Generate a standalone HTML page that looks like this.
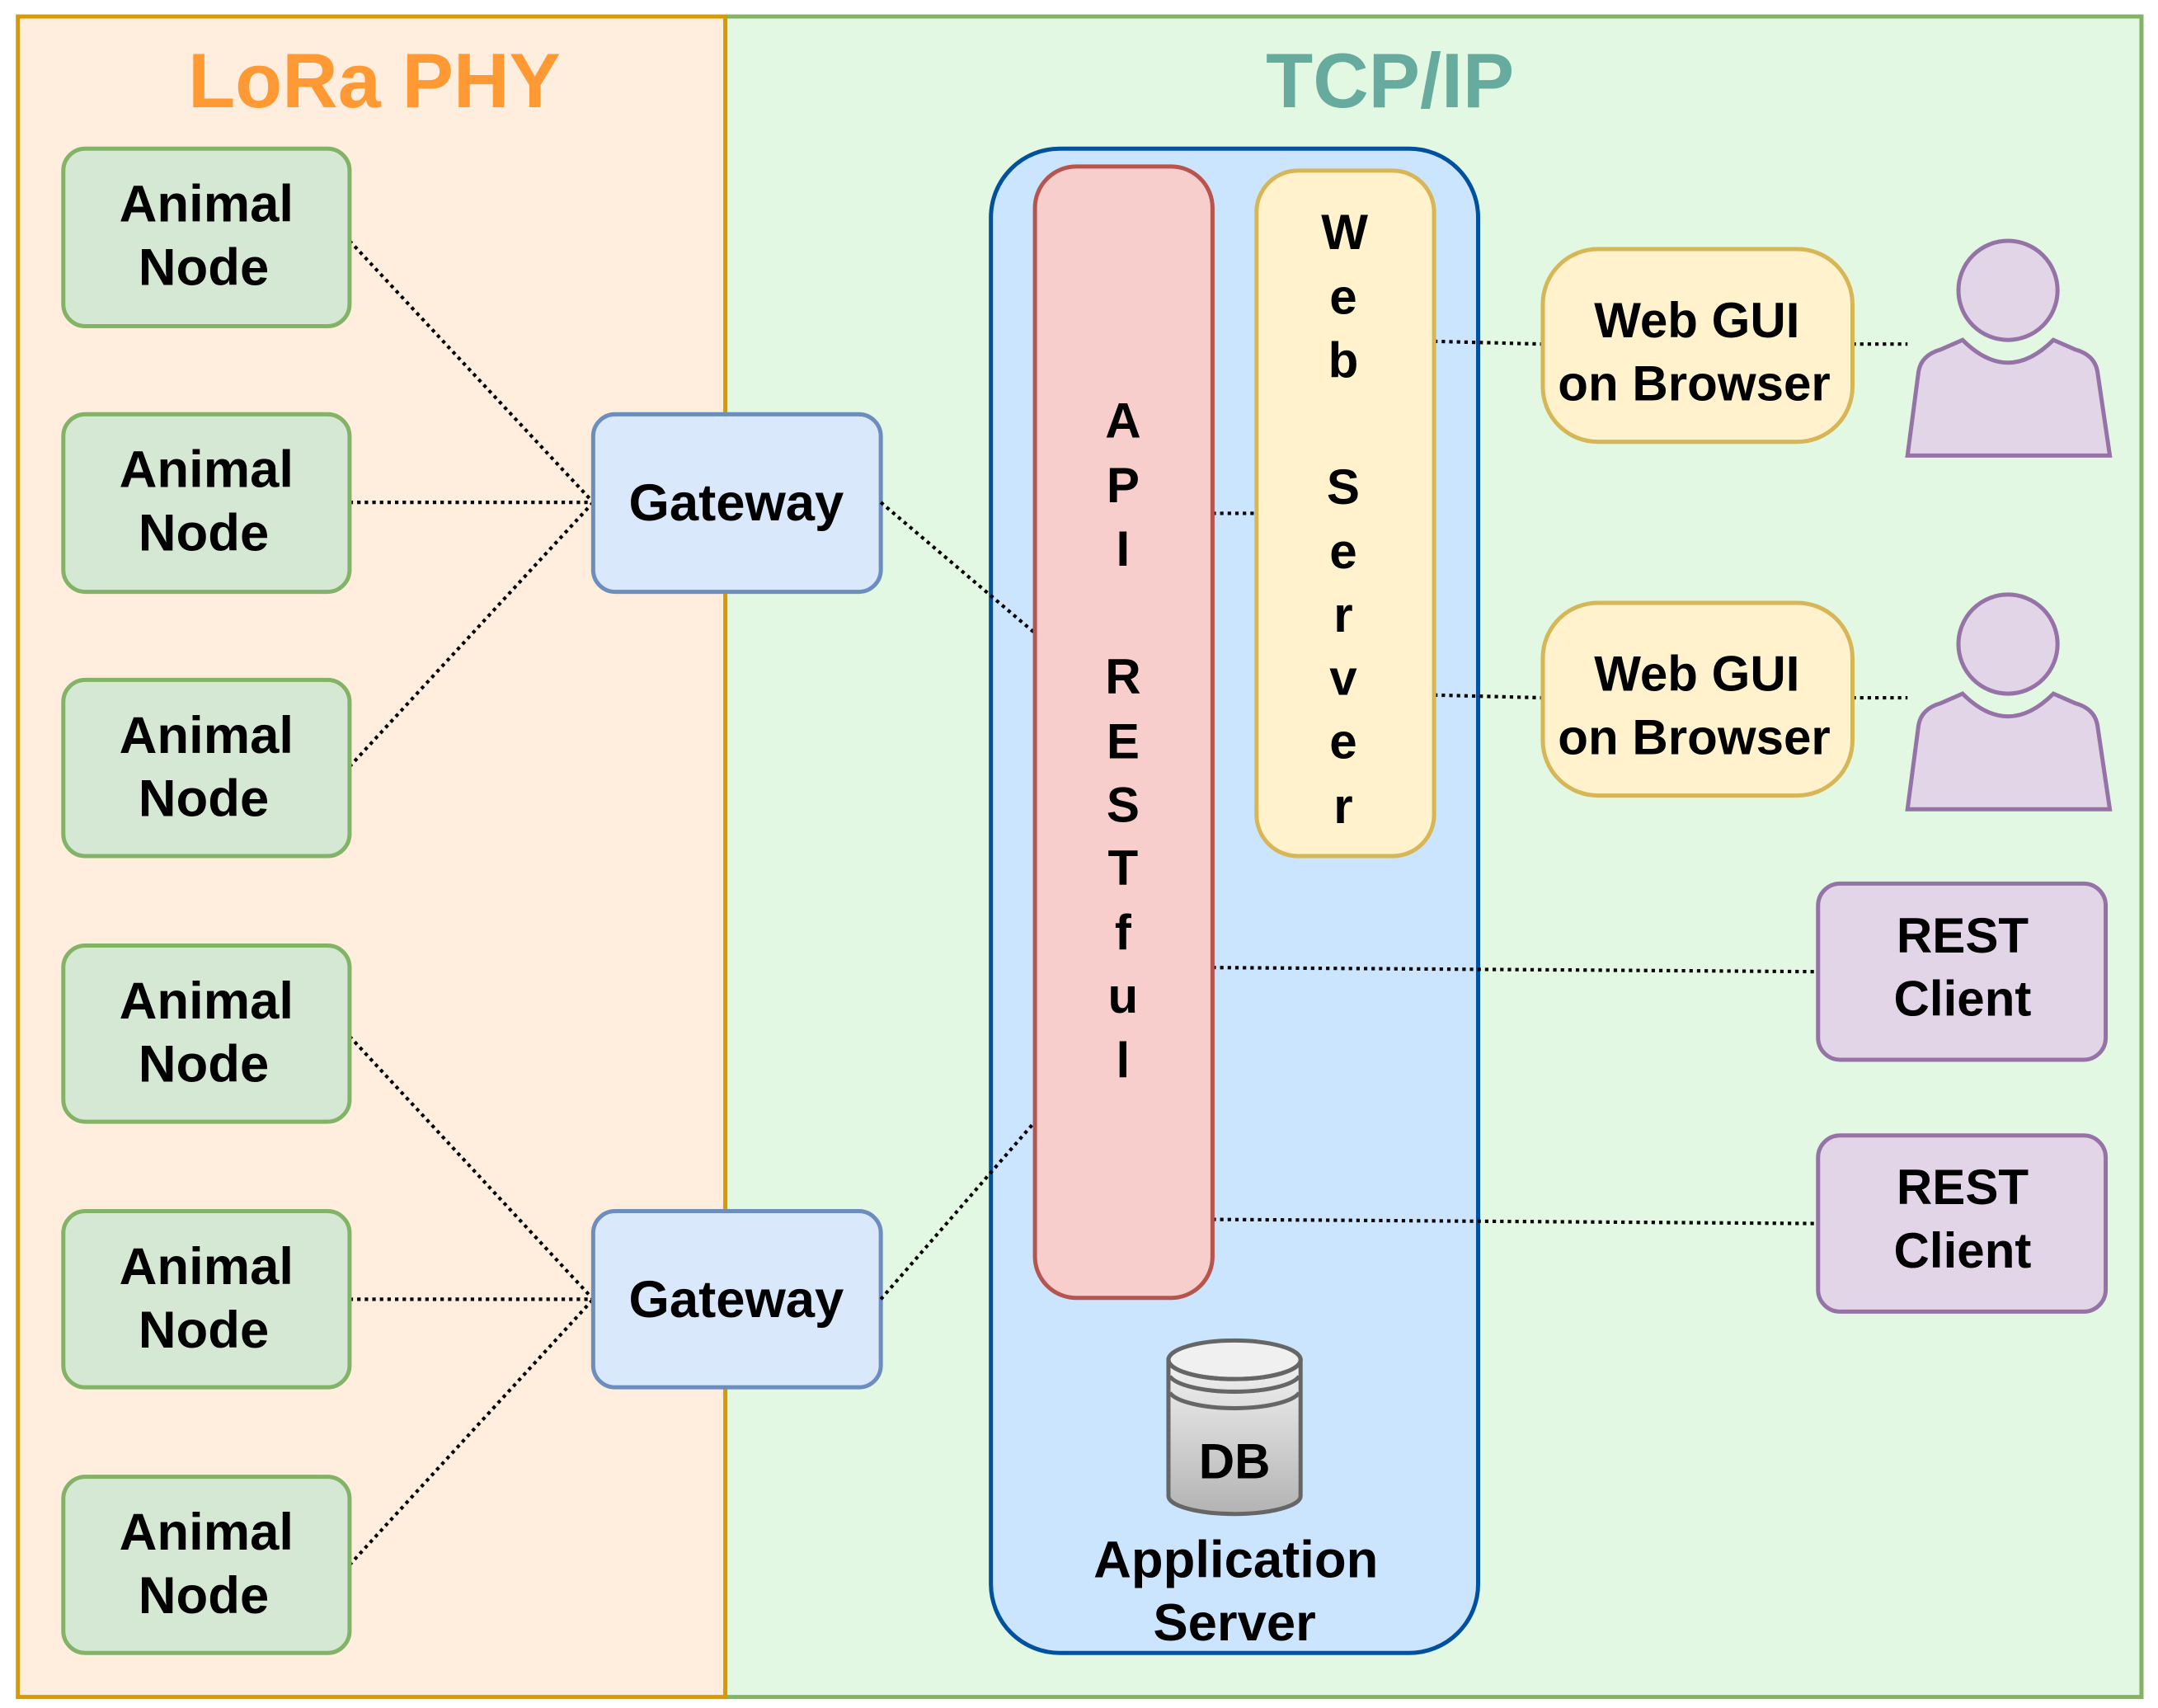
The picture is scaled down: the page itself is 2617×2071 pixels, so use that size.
<!DOCTYPE html>
<html><head><meta charset="utf-8"><style>html,body{margin:0;padding:0;background:#fff}svg{display:block}text{font-family:"Liberation Sans",Arial,sans-serif;font-weight:bold}</style></head>
<body>
<svg width="2617" height="2071" viewBox="0 0 1568 1241" preserveAspectRatio="none" xmlns="http://www.w3.org/2000/svg">
<defs><linearGradient id="g" x1="0" y1="0" x2="0" y2="1"><stop offset="0" stop-color="#f2f2f2"/><stop offset="1" stop-color="#b3b3b3"/></linearGradient></defs>
<rect x="0" y="0" width="1568" height="1241" fill="#fff"/>
<rect x="527" y="12" width="1029" height="1221" fill="#e3f8e3" stroke="#82b366" stroke-width="3"/>
<rect x="13" y="12" width="514" height="1221" fill="#ffeddd" stroke="#d79b00" stroke-width="3"/>
<text x="272" y="78" font-size="56" fill="#ff9933" text-anchor="middle">LoRa PHY</text>
<text x="1010" y="78" font-size="56" fill="#67ab9f" text-anchor="middle">TCP/IP</text>

<g stroke="#000" stroke-width="2.5" stroke-dasharray="2.5 3" fill="none">
<line x1="254" y1="175" x2="431" y2="365"/><line x1="254" y1="365" x2="431" y2="365"/><line x1="254" y1="557" x2="431" y2="365"/>
<line x1="254" y1="753" x2="431" y2="944"/><line x1="254" y1="944" x2="431" y2="944"/><line x1="254" y1="1137" x2="431" y2="944"/>
</g>

<g fill="#d5e8d4" stroke="#82b366" stroke-width="3">
<rect x="46" y="108" width="208" height="129" rx="16"/><rect x="46" y="301" width="208" height="129" rx="16"/><rect x="46" y="494" width="208" height="128" rx="16"/>
<rect x="46" y="687" width="208" height="128" rx="16"/><rect x="46" y="880" width="208" height="128" rx="16"/><rect x="46" y="1073" width="208" height="128" rx="16"/>
</g>
<g font-size="38" text-anchor="middle" fill="#000">
<text x="150" y="161">Animal</text><text x="148" y="207">Node</text>
<text x="150" y="354">Animal</text><text x="148" y="400">Node</text>
<text x="150" y="547">Animal</text><text x="148" y="593">Node</text>
<text x="150" y="740">Animal</text><text x="148" y="786">Node</text>
<text x="150" y="933">Animal</text><text x="148" y="979">Node</text>
<text x="150" y="1126">Animal</text><text x="148" y="1172">Node</text>
</g>
<g fill="#dae8fc" stroke="#6c8ebf" stroke-width="3">
<rect x="431" y="301" width="209" height="129" rx="16"/><rect x="431" y="880" width="209" height="128" rx="16"/>
</g>
<text x="535" y="378" font-size="38" text-anchor="middle">Gateway</text>
<text x="535" y="957" font-size="38" text-anchor="middle">Gateway</text>

<rect x="720" y="108" width="354" height="1093" rx="50" fill="#cce5ff" stroke="#0050a0" stroke-width="3"/>

<g stroke="#000" stroke-width="2.5" stroke-dasharray="2.5 3" fill="none">
<line x1="640" y1="365" x2="752" y2="460"/><line x1="640" y1="944" x2="752" y2="815"/>
<line x1="881" y1="373" x2="913" y2="373"/>
<line x1="1042" y1="248" x2="1121" y2="250"/><line x1="1042" y1="505" x2="1121" y2="507"/>
<line x1="1346" y1="250" x2="1386" y2="250"/><line x1="1346" y1="507" x2="1386" y2="507"/>
<line x1="881" y1="703" x2="1321" y2="706"/><line x1="881" y1="886" x2="1321" y2="889"/>
</g>

<rect x="752" y="121" width="129" height="822" rx="30" fill="#f8cecc" stroke="#b85450" stroke-width="3"/>
<g font-size="36" text-anchor="middle">
<text x="816" y="318">A</text><text x="816" y="365">P</text><text x="816" y="411">I</text>
<text x="816" y="504">R</text><text x="816" y="551">E</text><text x="816" y="597">S</text><text x="816" y="643">T</text><text x="816" y="690">f</text><text x="816" y="736">u</text><text x="816" y="783">l</text>
</g>
<rect x="913" y="124" width="129" height="498" rx="30" fill="#fff2cc" stroke="#d6b656" stroke-width="3"/>
<g font-size="36" text-anchor="middle">
<text x="977" y="181">W</text><text x="976" y="228">e</text><text x="976" y="274">b</text>
<text x="976" y="366">S</text><text x="976" y="413">e</text><text x="976" y="459">r</text><text x="976" y="505">v</text><text x="976" y="551">e</text><text x="976" y="598">r</text>
</g>

<g fill="#fff2cc" stroke="#d6b656" stroke-width="3">
<rect x="1121" y="181" width="225" height="140" rx="40"/><rect x="1121" y="438" width="225" height="140" rx="40"/>
</g>
<g font-size="36" text-anchor="middle">
<text x="1233" y="245">Web GUI</text><text x="1231" y="291">on Browser</text>
<text x="1233" y="502">Web GUI</text><text x="1231" y="548">on Browser</text>
</g>

<g fill="#e1d5e7" stroke="#9673a6" stroke-width="3">
<circle cx="1459" cy="211" r="36"/>
<path d="M1386,331 L1394,270 Q1396,258 1410,254 L1426,247 Q1459,280 1492,247 L1508,254 Q1522,258 1524,270 L1533,331 Z"/>
<circle cx="1459" cy="468" r="36"/>
<path d="M1386,588 L1394,527 Q1396,515 1410,511 L1426,504 Q1459,537 1492,504 L1508,511 Q1522,515 1524,527 L1533,588 Z"/>
<rect x="1321" y="642" width="209" height="128" rx="16"/><rect x="1321" y="825" width="209" height="128" rx="16"/>
</g>
<g font-size="36" text-anchor="middle">
<text x="1426" y="692">REST</text><text x="1426" y="738">Client</text>
<text x="1426" y="875">REST</text><text x="1426" y="921">Client</text>
</g>

<g stroke="#666" stroke-width="3">
<path d="M849,988 L849,1087 A48,13 0 0 0 945,1087 L945,988 Z" fill="url(#g)"/>
<ellipse cx="897" cy="988" rx="48" ry="14" fill="#f0f0f0"/>
<path d="M849,988 A48,14 0 0 0 945,988" fill="none"/>
<path d="M850,1000 A48,14 0 0 0 944,1000" fill="none"/>
<path d="M850,1012 A48,14 0 0 0 944,1012" fill="none"/>
</g>
<text x="897" y="1074" font-size="36" text-anchor="middle">DB</text>
<text x="898" y="1146" font-size="38" text-anchor="middle">Application</text>
<text x="897" y="1192" font-size="38" text-anchor="middle">Server</text>
</svg>
</body></html>
